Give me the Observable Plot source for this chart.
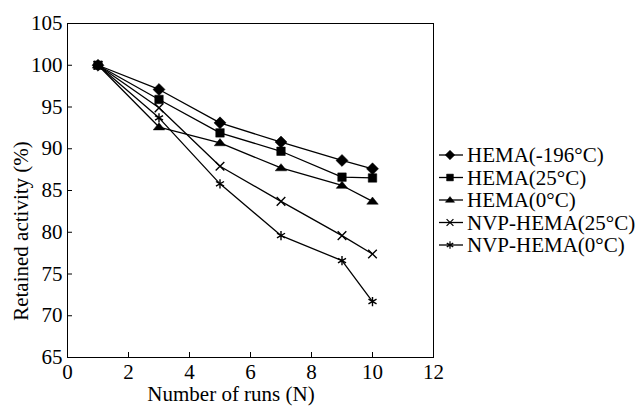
<!DOCTYPE html>
<html><head><meta charset="utf-8">
<script src="https://cdn.jsdelivr.net/npm/d3@7"></script>
<script src="https://cdn.jsdelivr.net/npm/@observablehq/plot@0.6"></script>
<style>body{margin:0;background:#fff}</style>
</head><body><div id="chart"></div>
<script>
const runs = [1, 3, 5, 7, 9, 10];
const seriesNames = ["HEMA(-196°C)", "HEMA(25°C)", "HEMA(0°C)", "NVP-HEMA(25°C)", "NVP-HEMA(0°C)"];
const hemaM196 = [100, 97.1, 93.1, 90.8, 88.6, 87.6];
const hema25 = [100, 95.9, 91.9, 89.7, 86.6, 86.5];
const hema0 = [100, 92.6, 90.7, 87.7, 85.6, 83.7];
const nvpHema25 = [100, 94.9, 87.9, 83.7, 79.6, 77.4];
const nvpHema0 = [100, 93.7, 85.8, 79.6, 76.6, 71.7];
const xTicks = [0, 2, 4, 6, 8, 10, 12];
const yTicks = [65, 70, 75, 80, 85, 90, 95, 100, 105];

const flatTriangle = {
  draw(context, size) {
    const w = Math.sqrt(size) * 1.25, h = w * 0.62;
    context.moveTo(0, -h * 0.6);
    context.lineTo(w / 2, h * 0.4);
    context.lineTo(-w / 2, h * 0.4);
    context.closePath();
  }
};

const allValues = [hemaM196, hema25, hema0, nvpHema25, nvpHema0];
const symbols = [d3.symbolDiamond2, d3.symbolSquare, flatTriangle, d3.symbolTimes, d3.symbolAsterisk];
const radii = [5.4, 4.8, 5.2, 4.0, 4.4];

const data = [];
allValues.forEach((vals, s) => vals.forEach((v, i) => data.push({series: seriesNames[s], run: runs[i], value: v, idx: s})));

const marks = [
  Plot.frame({stroke: "black", strokeWidth: 1}),
  Plot.axisX({ticks: xTicks, tickSize: -5, tickPadding: 12, label: null, tickFormat: d => d}),
  Plot.axisY({ticks: yTicks, tickSize: -5, tickPadding: 10, label: null, tickFormat: d => d}),
  Plot.line(data, {x: "run", y: "value", z: "series", stroke: "black", strokeWidth: 1.3})
];
seriesNames.forEach((name, s) => {
  const filled = s < 3;
  marks.push(Plot.dot(data.filter(d => d.idx === s), {
    x: "run", y: "value", symbol: () => symbols[s], r: radii[s],
    fill: filled ? "black" : "none", stroke: "black", strokeWidth: filled ? 0.5 : 1.4
  }));
});

const FONT = "'Liberation Serif', 'Times New Roman', serif";
const chart = Plot.plot({
  width: 642, height: 408,
  marginLeft: 67, marginRight: 209, marginTop: 23, marginBottom: 51,
  x: {domain: [0, 12]},
  y: {domain: [65, 105]},
  symbol: {type: "identity"},
  style: {fontSize: "21px", background: "white", fontFamily: FONT},
  marks
});
document.getElementById("chart").appendChild(chart);

const svg = d3.select(chart);
svg.append("text").attr("x", 231).attr("y", 401).attr("text-anchor", "middle")
  .attr("fill", "black").text("Number of runs (N)");
svg.append("text").attr("transform", "translate(28,231) rotate(-90)").attr("text-anchor", "middle")
  .attr("fill", "black").text("Retained activity (%)");

const leg = svg.append("g").attr("text-anchor", "start");
seriesNames.forEach((name, s) => {
  const y = 155 + s * 22.5;
  const g = leg.append("g");
  g.append("line").attr("x1", 439).attr("x2", 463).attr("y1", y).attr("y2", y).attr("stroke", "black").attr("stroke-width", 1.3);
  const filled = s < 3;
  const r = radii[s] * 0.8;
  g.append("path").attr("d", d3.symbol(symbols[s], Math.PI * r * r)())
    .attr("transform", `translate(450,${y})`)
    .attr("fill", filled ? "black" : "none").attr("stroke", "black").attr("stroke-width", filled ? 0.5 : 1.2);
  g.append("text").attr("x", 467).attr("y", y).attr("dy", "0.35em").attr("text-anchor", "start")
    .attr("fill", "black").text(name);
});
svg.selectAll("text").style("font-family", FONT).style("font-size", "21px");
</script></body></html>
